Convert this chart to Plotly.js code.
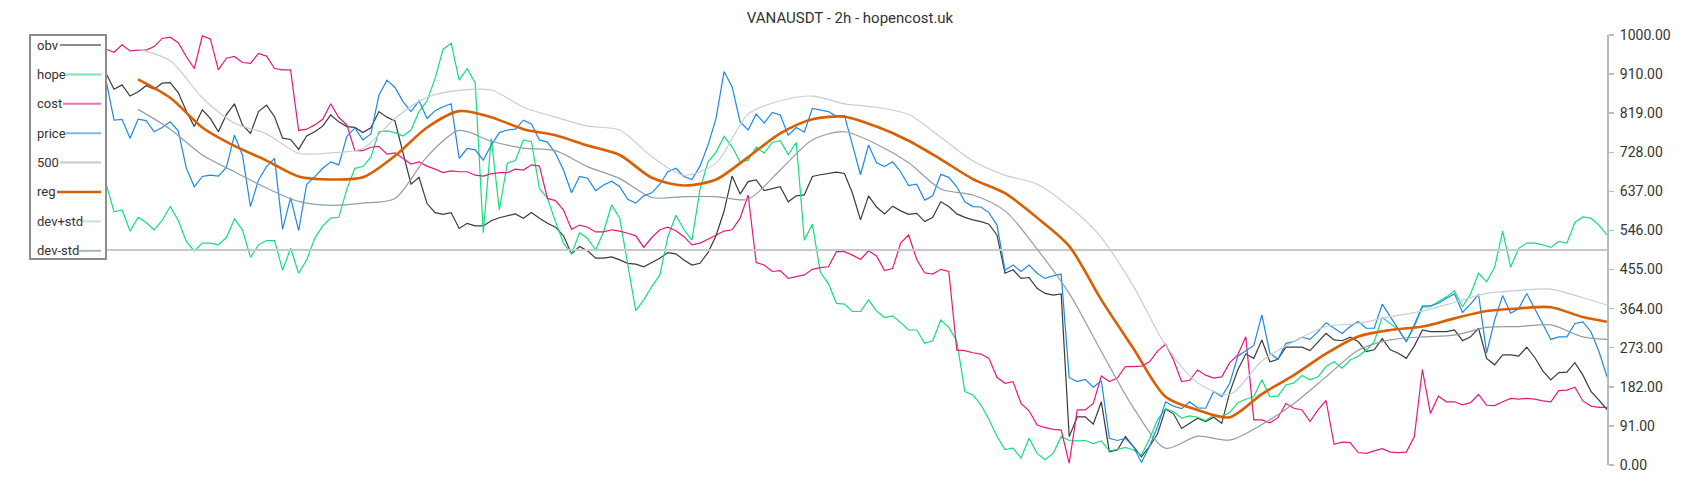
<!DOCTYPE html>
<html>
<head>
<meta charset="utf-8">
<script src="https://cdn.plot.ly/plotly-3.0.1.min.js"></script>
<style>html,body{margin:0;padding:0;background:#fff;}#chart{width:1700px;height:500px;}</style>
</head>
<body>
<div id="chart"></div>
<script>
// ---- data (2h candles, index 0..187) ----
const obv = [911,874,884,858,868,882,874,888,889,866,823,787,826,806,775,815,840,791,771,822,837,810,760,757,734,765,775,788,814,798,
787,785,773,784,822,809,800,725,653,669,608,587,583,587,550,562,556,556,568,575,579,584,574,587,574,562,553,533,491,508,498,481,
481,484,477,469,467,461,471,481,494,491,477,465,469,494,533,590,672,630,659,663,638,643,647,612,626,628,671,675,678,681,678,
632,570,626,600,584,602,591,583,585,566,576,612,601,584,576,570,566,560,535,446,454,434,436,411,399,395,398,66,112,112,95,
147,31,35,66,43,19,43,72,130,119,85,97,109,101,111,97,169,221,258,248,291,240,246,274,274,274,266,287,306,291,289,
297,287,264,268,294,268,260,248,277,314,310,310,310,314,289,298,318,248,233,256,256,253,274,250,219,198,215,216,238,209,171,151,129];

const hope = [655,589,593,544,576,564,547,569,601,569,520,498,516,516,512,529,572,547,483,512,522,522,453,504,446,477,527,556,574,576,
641,690,694,716,775,777,773,765,779,822,847,899,967,981,895,922,888,540,760,593,702,708,756,752,643,620,566,516,491,540,527,500,
543,605,574,465,359,384,415,442,531,581,547,523,641,705,727,764,740,705,709,739,725,750,754,722,750,523,560,448,422,376,374,
357,357,384,358,343,347,331,314,314,283,289,337,320,288,171,163,140,106,67,36,39,16,62,27,12,27,66,57,56,57,50,
56,33,36,41,35,23,60,105,131,124,109,114,111,103,116,113,122,145,153,159,198,159,160,186,191,208,198,205,229,240,225,
244,253,267,287,343,329,315,287,322,367,368,380,391,405,368,398,446,426,460,544,460,504,516,516,512,506,520,516,564,577,574,558,535];

const cost = [967,960,977,963,965,965,973,992,995,982,950,922,998,991,919,946,950,936,934,957,951,922,919,919,778,781,791,804,840,808,
791,731,731,739,741,723,726,713,700,705,695,688,680,684,682,682,674,672,677,680,680,688,686,698,695,620,615,593,548,558,553,542,
542,547,544,539,533,506,529,547,553,545,531,512,516,525,535,544,547,574,628,471,465,450,452,434,438,442,455,459,461,496,496,
488,478,498,486,452,457,516,535,478,447,444,455,450,267,266,261,258,248,204,190,194,143,126,93,87,83,81,4,128,128,143,
207,194,202,229,229,230,240,265,281,244,194,197,221,209,202,205,238,256,298,105,105,98,110,143,132,128,101,128,150,48,53,
52,29,27,33,38,30,29,30,66,222,120,160,147,147,140,145,164,139,138,147,155,153,155,153,149,147,173,174,181,149,137,134,134];

const price = [895,802,804,760,804,801,775,785,798,777,691,647,671,674,672,692,767,721,601,663,694,713,548,622,545,653,670,690,705,698,
764,784,756,770,860,895,878,845,822,847,806,824,833,840,713,736,733,709,744,773,779,781,802,793,756,751,725,686,633,671,667,638,
651,660,647,618,609,626,633,653,682,690,671,664,695,744,806,915,880,798,779,816,795,820,814,767,785,774,829,826,822,811,813,
744,675,744,703,694,705,682,650,653,616,626,676,669,647,612,601,600,587,558,453,465,450,465,446,434,440,444,203,194,199,181,
196,62,57,62,43,6,43,89,147,137,131,147,133,132,171,159,190,253,266,278,349,260,246,283,287,297,292,310,331,318,306,
322,334,318,318,374,346,318,287,326,370,370,376,388,398,355,374,397,260,337,394,353,364,399,362,328,292,298,298,329,333,310,264,205];

const level500 = 500;

// smoothed series, sampled every 4 candles
const smoothIdx = [4,8,12,16,20,24,28,32,36,40,44,48,52,56,60,64,68,72,76,80,84,88,92,96,100,104,108,112,116,120,
124,128,132,136,140,144,148,152,156,160,164,168,172,176,180,184,187];
const reg = [897,854,785,742,708,671,664,669,719,785,823,809,781,767,743,721,668,650,664,716,771,804,810,
787,754,711,665,632,575,509,384,271,159,128,111,165,209,259,299,314,322,341,358,364,367,344,333];
const devPlus = [967,940,854,795,770,725,726,736,806,855,871,872,832,809,788,779,717,674,702,816,847,858,840,
832,815,762,707,674,653,601,529,416,279,191,164,242,287,322,329,345,358,378,399,406,409,389,372];
const devMinus = [827,781,721,682,644,613,604,609,620,717,778,753,737,731,694,666,622,624,624,618,686,756,775,
746,703,642,628,591,502,399,264,133,39,67,58,94,143,205,267,291,298,302,320,322,326,298,292];

const tickVals = [0,90.9,181.8,272.7,363.6,454.5,545.5,636.4,727.3,818.2,909.1,1000];
const tickText = ['0.00','91.00','182.00','273.00','364.00','455.00','546.00','637.00','728.00','819.00','910.00','1000.00'];

const seriesNames = ['obv','hope','cost','price','500','reg','dev+std','dev-std'];

// ---- build ----
const idx = obv.map((_, i) => i);
const lastIdx = idx.length - 1;

const colors = {
  obv: '#3a3a3a', hope: '#12e07a', cost: '#e8177a', price: '#1e88e5',
  l500: '#c8c8c8', reg: '#d95f02', devPlus: '#c5ced3', devMinus: '#8f9ea6'
};
const swatch = ['#8c8c8c','#79e6a8','#ee72b0','#7db7ee','#c8c8c8','#d35f06','#d2d9dd','#aab6bc'];

const traces = [
  {x: idx, y: obv, name: 'obv', line: {color: colors.obv, width: 1.2}},
  {x: idx, y: hope, name: 'hope', line: {color: colors.hope, width: 1.2}},
  {x: idx, y: cost, name: 'cost', line: {color: colors.cost, width: 1.2}},
  {x: idx, y: price, name: 'price', line: {color: colors.price, width: 1.2}},
  {x: [0, lastIdx], y: [level500, level500], name: '500', line: {color: colors.l500, width: 2}},
  {x: smoothIdx, y: reg, name: 'reg', line: {color: colors.reg, width: 2.6, shape: 'spline', smoothing: 0.8}},
  {x: smoothIdx, y: devPlus, name: 'dev+std', line: {color: colors.devPlus, width: 1.2, shape: 'spline', smoothing: 0.8}},
  {x: smoothIdx, y: devMinus, name: 'dev-std', line: {color: colors.devMinus, width: 1.2, shape: 'spline', smoothing: 0.8}}
].map(t => Object.assign({type: 'scatter', mode: 'lines', hoverinfo: 'skip'}, t));

const W = 1700, H = 500, L = 106, R = 93, T = 35, B = 35;
const pw = W - L - R, ph = H - T - B;
const px2x = px => (px - L) / pw;
const py2y = py => (H - B - py) / ph;

const shapes = [{
  type: 'rect', xref: 'paper', yref: 'paper', layer: 'above',
  x0: px2x(30), x1: px2x(106), y0: py2y(259), y1: py2y(35),
  line: {color: '#8c8c8c', width: 2}, fillcolor: '#ffffff'
}];
const annotations = [];
const swStart = [60, 66, 63, 66, 60, 57, 81, 79];
seriesNames.forEach((nm, k) => {
  const cy = 45 + k * 29.4;
  annotations.push({
    xref: 'paper', yref: 'paper', x: px2x(35), y: py2y(cy), xanchor: 'left', yanchor: 'middle',
    text: nm, showarrow: false, font: {family: 'Roboto, sans-serif', size: 13, color: '#333'}
  });
  shapes.push({
    type: 'line', xref: 'paper', yref: 'paper', layer: 'above',
    x0: px2x(swStart[k]), x1: px2x(101), y0: py2y(cy), y1: py2y(cy),
    line: {color: swatch[k], width: k === 5 ? 2.5 : 2}
  });
});

const layout = {
  width: W, height: H,
  margin: {l: L, r: R, t: T, b: B, pad: 0},
  paper_bgcolor: '#ffffff', plot_bgcolor: '#ffffff',
  showlegend: false,
  title: {text: 'VANAUSDT - 2h - hopencost.uk', x: 0.5, xref: 'container', xanchor: 'center',
          y: 1 - 18 / H, yref: 'container', yanchor: 'middle',
          font: {family: 'Roboto, sans-serif', size: 15, color: '#333'}},
  xaxis: {range: [0, lastIdx], visible: false, fixedrange: true},
  yaxis: {range: [0, 1000], side: 'right', showgrid: false, zeroline: false,
          showline: true, linecolor: '#b0bec5', linewidth: 2,
          ticks: 'outside', ticklen: 5, tickwidth: 1.5, tickcolor: '#b0bec5',
          tickvals: tickVals, ticktext: tickText, ticklabelstandoff: 3,
          tickfont: {family: 'Roboto, sans-serif', size: 14, color: '#333'}},
  shapes: shapes, annotations: annotations
};

Plotly.newPlot('chart', traces, layout, {staticPlot: true, displayModeBar: false});
</script>
</body>
</html>
